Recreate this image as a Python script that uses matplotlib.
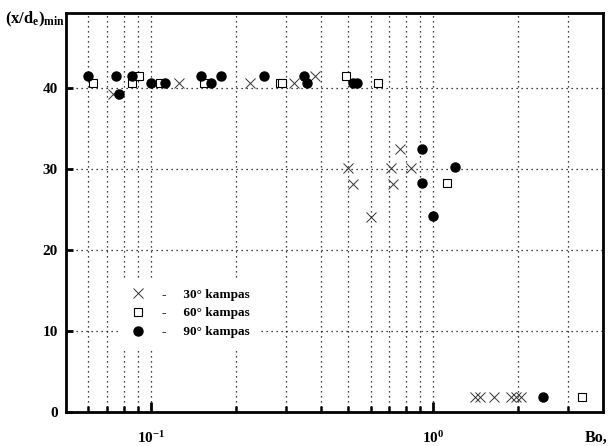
import matplotlib
matplotlib.use("Agg")
import matplotlib.pyplot as plt
from matplotlib.ticker import FixedLocator, NullFormatter
from matplotlib.lines import Line2D

plt.rcParams['font.family'] = ['Liberation Serif', 'DejaVu Serif']
plt.rcParams['font.weight'] = 'bold'
plt.rcParams['mathtext.fontset'] = 'custom'
plt.rcParams['mathtext.rm'] = 'Liberation Serif:bold'
plt.rcParams['mathtext.it'] = 'Liberation Serif:bold'
plt.rcParams['mathtext.bf'] = 'Liberation Serif:bold'

# 30 deg
x30 = [0.0733, 0.1257, 0.224, 0.321, 0.382, 0.50, 0.52, 0.603, 0.71, 0.72, 0.764, 0.836,
       1.41, 1.47, 1.645, 1.89, 1.97, 2.05]
y30 = [39.3, 40.7, 40.7, 40.7, 41.5, 30.2, 28.2, 24.1, 30.2, 28.2, 32.5, 30.2,
       1.8, 1.8, 1.8, 1.8, 1.8, 1.8]
# 60 deg
x60 = [0.0623, 0.0857, 0.0906, 0.1077, 0.154, 0.286, 0.292, 0.492, 0.638, 1.12, 3.37]
y60 = [40.7, 40.7, 41.5, 40.7, 40.7, 40.7, 40.7, 41.5, 40.7, 28.3, 1.8]
# 90 deg
x90 = [0.0598, 0.0751, 0.077, 0.0857, 0.1, 0.112, 0.150, 0.163, 0.177, 0.252, 0.349, 0.357,
       0.522, 0.536, 0.914, 1.197, 0.914, 1.0, 2.45]
y90 = [41.5, 41.5, 39.3, 41.5, 40.7, 40.7, 41.5, 40.7, 41.5, 41.5, 41.5, 40.7,
       40.7, 40.7, 32.5, 30.3, 28.3, 24.2, 1.8]

labels = ["30° kampas", "60° kampas", "90° kampas"]
yticks = [0, 10, 20, 30, 40]
xmajor = [0.1, 1.0]
xminor = [0.06, 0.07, 0.08, 0.09, 0.2, 0.3, 0.4, 0.5, 0.6, 0.7, 0.8, 0.9, 2, 3]

fig = plt.figure(figsize=(6.1, 4.46), dpi=100)
ax = fig.add_axes([66/610, 34/446, 537/610, 399/446])
ax.set_xscale('log')
ax.set_xlim(0.05, 4.0)
ax.set_ylim(0, 49.3)

# grid
for v in xmajor + xminor:
    ax.axvline(v, color='black', lw=0.9, ls=(0, (1, 3)), zorder=1)
for v in yticks[1:]:
    ax.axhline(v, color='black', lw=0.9, ls=(0, (1, 3)), zorder=1)

ax.plot(x30, y30, ls='none', marker='x', ms=6.5, mew=0.7, color='#333333', zorder=3)
ax.plot(x60, y60, ls='none', marker='s', ms=5.2, mew=0.8, mfc='white', mec='black', zorder=3)
ax.plot(x90, y90, ls='none', marker='o', ms=6.5, mfc='black', mec='black', zorder=4)

ax.xaxis.set_major_locator(FixedLocator(xmajor))
ax.xaxis.set_minor_locator(FixedLocator(xminor))
ax.xaxis.set_minor_formatter(NullFormatter())
ax.set_xticklabels(['$10^{-1}$', '$10^{0}$'])
ax.set_yticks(yticks)
ax.set_yticklabels([str(t) for t in yticks])

ax.tick_params(axis='x', which='major', direction='in', length=7, width=2, pad=13, labelsize=11)
ax.tick_params(axis='x', which='minor', direction='in', length=4, width=1.8)
ax.tick_params(axis='y', which='major', direction='in', length=5, width=2, pad=6, labelsize=11)
ax.tick_params(top=False, right=False, which='both')
for s in ax.spines.values():
    s.set_linewidth(2.0)

handles = [
    Line2D([], [], ls='none', marker='x', ms=6.5, mew=0.7, color='#333333'),
    Line2D([], [], ls='none', marker='s', ms=5.2, mew=0.8, mfc='white', mec='black'),
    Line2D([], [], ls='none', marker='o', ms=6.5, mfc='black', mec='black'),
]
leg = ax.legend(handles, ["-     " + l for l in labels], loc='upper left',
                bbox_to_anchor=(0.09, 0.353), frameon=True, fancybox=False,
                facecolor='white', edgecolor='none', framealpha=1.0, fontsize=9.5,
                handletextpad=1.3, labelspacing=0.5, handlelength=1.0, borderpad=0.8)
leg.set_zorder(5)

fig.text(65/610, 1 - 10/446, '$(x/d_e)_{min}$', ha='right', va='top', fontsize=12)
fig.text(607/610, 1 - 442/446, 'Bo,', ha='right', va='baseline', fontsize=11.5, weight='bold')

fig.savefig('out.png', dpi=100)
